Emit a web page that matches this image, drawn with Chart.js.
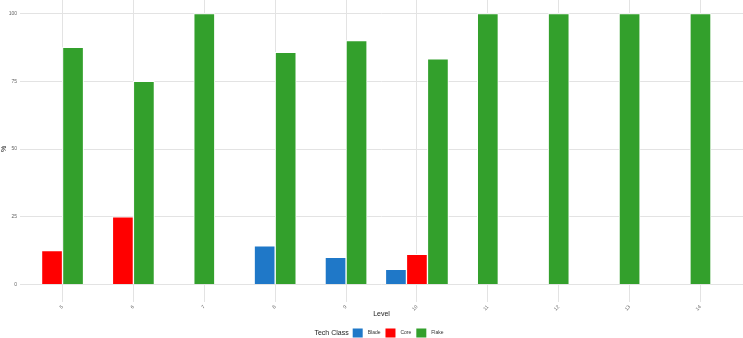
<!DOCTYPE html>
<html>
<head>
<meta charset="utf-8">
<script src="https://cdn.jsdelivr.net/npm/chart.js@4"></script>
<style>
  body { margin: 0; background: #fff; }
  #wrap { width: 743px; height: 338px; position: relative; }
</style>
</head>
<body>
<div id="wrap"><canvas id="myChart"></canvas></div>
<script>
Chart.defaults.font.family = "Liberation Sans";
Chart.defaults.color = "#4d4d4d";

const levels = [5, 6, 7, 8, 9, 10, 11, 12, 13, 14];
const blade = [null, null, null, 14.3, 10, 5.6, null, null, null, null];
const core = [12.5, 25, null, null, null, 11.1, null, null, null, null];
const flake = [87.5, 75, 100, 85.7, 90, 83.3, 100, 100, 100, 100];
const yTicks = [0, 25, 50, 75, 100];

const classes = ["Blade", "Core", "Flake"];
const colors = ["#1f78c8", "#ff0000", "#33a02c"];
const gridColor = "#e3e3e3";

function toPoints(arr) {
  return levels.map((lvl, i) => ({ x: lvl, y: arr[i] }));
}

// ggplot style legend: title on the same row as the keys
const inlineLegend = {
  id: "inlineLegend",
  afterDraw(chart) {
    const ctx = chart.ctx;
    const area = chart.chartArea;
    const y = 333;
    ctx.save();
    ctx.textBaseline = "middle";
    ctx.font = "7px 'Liberation Sans'";
    const titleW = ctx.measureText("Tech Class").width;
    ctx.font = "5px 'Liberation Sans'";
    const labelW = classes.map((c) => ctx.measureText(c).width);
    const box = 10;
    let total = titleW + 4;
    labelW.forEach((w) => (total += box + 5 + w + 5));
    let x = (area.left + area.right) / 2 - total / 2;

    ctx.fillStyle = "#1a1a1a";
    ctx.font = "7px 'Liberation Sans'";
    ctx.fillText("Tech Class", x, y);
    x += titleW + 4;
    ctx.font = "5px 'Liberation Sans'";
    classes.forEach((c, i) => {
      ctx.fillStyle = colors[i];
      ctx.fillRect(x, y - 4.5, box, 9);
      x += box + 5;
      ctx.fillStyle = "#333";
      ctx.fillText(c, x, y);
      x += labelW[i] + 5;
    });
    ctx.restore();
  },
};

const ctx = document.getElementById("myChart");

const myChart = new Chart(ctx, {
  type: "bar",
  data: {
    datasets: classes.map((c, i) => ({
      label: c,
      data: toPoints([blade, core, flake][i]),
      backgroundColor: colors[i],
      borderColor: "#ffffff",
      borderWidth: 1,
      barThickness: 21,
      skipNull: true,
    })),
  },
  options: {
    animation: false,
    responsive: true,
    maintainAspectRatio: false,
    layout: { padding: { top: 0, right: 0, bottom: 18, left: 0 } },
    plugins: {
      legend: { display: false },
      tooltip: { enabled: false },
    },
    scales: {
      x: {
        type: "linear",
        min: 4.4,
        max: 14.6,
        offset: false,
        ticks: {
          stepSize: 1,
          minRotation: 45,
          maxRotation: 45,
          padding: 2,
          font: { size: 5 },
          color: "#666",
        },
        afterBuildTicks(scale) {
          scale.ticks = scale.ticks.filter((t) => levels.includes(t.value));
        },
        afterFit(scale) {
          scale.height = 22;
          scale.paddingLeft = 0;
          scale.paddingRight = 0;
        },
        grid: { color: gridColor, offset: false, drawTicks: true, tickLength: 4 },
        border: { display: false },
        title: {
          display: true,
          text: "Level",
          font: { size: 7 },
          color: "#1a1a1a",
          padding: { top: 0, bottom: 2 },
        },
      },
      y: {
        min: -5,
        max: 105,
        ticks: {
          stepSize: 25,
          padding: 3,
          font: { size: 5 },
          color: "#666",
        },
        afterBuildTicks(scale) {
          scale.ticks = yTicks.map((v) => ({ value: v }));
        },
        afterFit(scale) {
          scale.width = 20;
          scale.paddingTop = 0;
          scale.paddingBottom = 0;
        },
        grid: { color: gridColor, drawTicks: false },
        border: { display: false },
        title: {
          display: true,
          text: "%",
          font: { size: 7 },
          color: "#1a1a1a",
          padding: { top: 0, bottom: 0 },
        },
      },
    },
  },
  plugins: [inlineLegend],
});
</script>
</body>
</html>
